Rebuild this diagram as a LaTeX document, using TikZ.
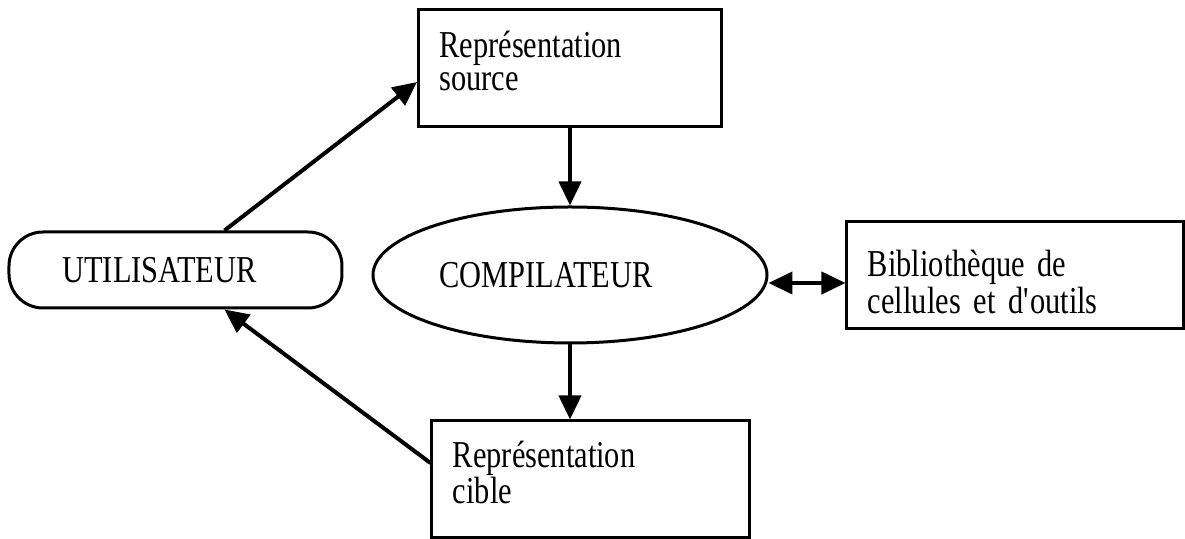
\documentclass[tikz,border=0pt]{standalone}
\usepackage{fontspec}
\setmainfont{Liberation Serif}[FakeStretch=0.8]
\usetikzlibrary{positioning, shapes.geometric, arrows.meta}
\setlength{\lineskiplimit}{-20pt}

\begin{document}
\begin{tikzpicture}[x=0.5pt,y=0.5pt,
    every node/.style={font=\fontsize{19}{16.5}\selectfont},
    box/.style={draw, line width=1.5pt, align=left, inner xsep=10.5pt, minimum height=58.5pt},
    fleche/.style={line width=2pt, -{Triangle[length=12pt,width=11pt]}},
]
        \useasboundingbox (-570,275) rectangle (615,-264);

        \node[draw, ellipse, line width=1.5pt, minimum width=197pt, minimum height=68pt, inner sep=0pt] (comp) at (0,0) {COMPILATEUR\hspace*{24pt}};
        \node[box, text width=130.5pt, above=38.5pt of comp] (src) {Représentation\\source\rule[-8pt]{0pt}{0pt}};
        \node[box, text width=138pt, below=37.5pt of comp, xshift=10.5pt] (tgt) {Représentation\\cible\rule[-7pt]{0pt}{0pt}};
        \node[box, text width=147pt, minimum height=53.5pt, right=38.5pt of comp] (lib) {\rule{0pt}{20pt}Bibliothèque de\\cellules et d\textquotesingle outils};
        \node[draw, line width=1.5pt, rounded corners=17pt, minimum width=166.5pt, minimum height=38pt, left=14pt of comp, yshift=2.5pt] (user) {UTILISATEUR\hspace*{16pt}};

        \draw[fleche] ([xshift=24.5pt]user.north) -- ([yshift=-6.75pt]src.west);
        \draw[fleche] (src) -- (comp);
        \draw[fleche] (comp.south) -- (comp.south |- tgt.north);
        \draw[line width=2pt, {Triangle[length=12pt,width=11pt]}-{Triangle[length=12pt,width=11pt]}] ([yshift=-4pt]comp.east) -- ([yshift=-4pt]comp.east -| lib.west);
        \draw[fleche] ([yshift=8.25pt]tgt.west) -- ([xshift=24.5pt]user.south);

    \end{tikzpicture}
\end{document}
